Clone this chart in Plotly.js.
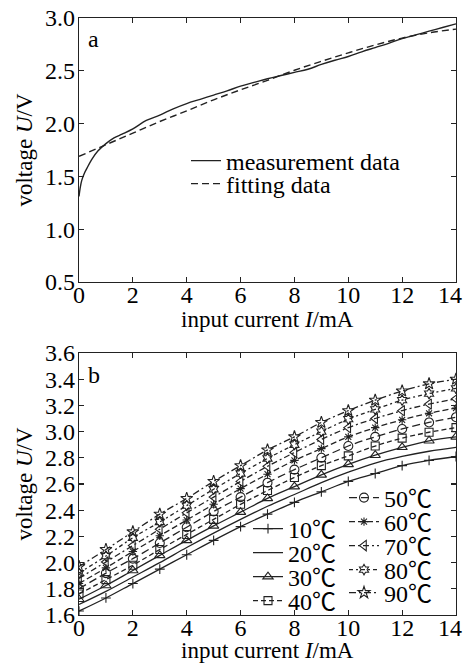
<!DOCTYPE html>
<html>
<head>
<meta charset="utf-8">
<script src="https://cdn.plot.ly/plotly-3.0.1.min.js"></script>
<style>html,body{margin:0;padding:0;background:#fff}#chart{width:463px;height:664px}</style>
</head>
<body>
<div id="chart"></div>
<script>
// ---------- data: panel a ----------
const measX = [0,0.05,0.1,0.2,0.3,0.5,0.7,1,1.3,1.6,2,2.5,3,3.5,4,4.5,5,5.5,6,6.5,7,7.5,8,8.5,9,9.5,10,10.5,11,11.5,12,12.5,13,13.5,14];
const measY = [1.31,1.40,1.46,1.53,1.58,1.67,1.74,1.81,1.865,1.90,1.95,2.03,2.08,2.14,2.19,2.23,2.27,2.31,2.355,2.39,2.425,2.455,2.485,2.515,2.56,2.60,2.635,2.68,2.72,2.76,2.805,2.84,2.875,2.91,2.945];
const fitX = [0,1,2,3,4,5,6,7,8,9,10,11,12,13,14];
const fitY = [1.69,1.80,1.91,2.02,2.12,2.225,2.32,2.41,2.505,2.59,2.67,2.745,2.81,2.86,2.895];
const legendA = ["measurement data","fitting data"];

// ---------- data: panel b ----------
const currentB = [0,1,2,3,4,5,6,7,8,9,10,11,12,13,14];
const temps = ["10℃","20℃","30℃","40℃","50℃","60℃","70℃","80℃","90℃"];
const v10 = [1.63,1.73,1.84,1.95,2.06,2.17,2.275,2.37,2.46,2.54,2.62,2.68,2.74,2.78,2.81];
const v20 = [1.68,1.78,1.89,2.00,2.115,2.225,2.33,2.43,2.52,2.61,2.69,2.76,2.81,2.85,2.88];
const v30 = [1.72,1.825,1.94,2.055,2.17,2.28,2.385,2.49,2.58,2.67,2.75,2.82,2.88,2.93,2.96];
const v40 = [1.76,1.87,1.98,2.10,2.215,2.33,2.445,2.55,2.65,2.74,2.815,2.89,2.95,2.995,3.03];
const v50 = [1.80,1.92,2.03,2.15,2.27,2.39,2.50,2.61,2.71,2.80,2.89,2.96,3.02,3.07,3.11];
const v60 = [1.84,1.96,2.085,2.205,2.325,2.445,2.565,2.675,2.78,2.87,2.96,3.03,3.09,3.14,3.18];
const v70 = [1.88,2.005,2.13,2.255,2.38,2.50,2.62,2.735,2.84,2.94,3.03,3.10,3.16,3.21,3.25];
const v80 = [1.92,2.05,2.19,2.31,2.435,2.56,2.68,2.795,2.90,3.00,3.095,3.17,3.24,3.29,3.33];
const v90 = [1.97,2.10,2.235,2.37,2.49,2.62,2.74,2.86,2.96,3.07,3.16,3.24,3.31,3.365,3.40];
const seriesB = [v10,v20,v30,v40,v50,v60,v70,v80,v90];
const xTickVals = [0,2,4,6,8,10,12,14];
const xTickText = ['0','2','4','6','8','10','12','14\u00a0\u00a0'];
const xTitle = 'input current <i>I</i>/mA';
const yTitle = 'voltage <i>U</i>/V';

// ---------- styling ----------
const W = 463, H = 664;
const M = {l:79, r:7, t:18, b:49};
const PW = W - M.l - M.r, PH = H - M.t - M.b;
const px2x = p => (p - M.l) / PW;
const px2y = p => 1 - (p - M.t) / PH;
const INK = '#222';
const FONT = 'Liberation Serif, Noto Sans CJK SC, serif';

const markerSym = [
  'cross-thin-open', null, 'triangle-up-open', 'square-open', 'circle-open',
  'asterisk-open', 'triangle-left-open', 'hexagram-open', 'star-open'
];
const markerSize = [7,0,9,8,9,7,9,8,9];
const dashes = ['solid','solid','solid','5px,3px','8px,4px','6px,3px','6px,3px,2px,3px','4px,3px,2px,3px','7px,3px,2px,3px'];

// legend positions: [line start x px, center y px]
const legPos = [
  [192,161],[192,184],
  [254,529],[254,553],[254,577],[254,601],
  [350,498],[350,522],[350,546],[350,570],[350,593]
];

const traces = [];
traces.push({x:measX, y:measY, xaxis:'x', yaxis:'y', type:'scatter', mode:'lines',
  name:legendA[0], line:{color:INK, width:1.4, shape:'spline'}, legend:'legend'});
traces.push({x:fitX, y:fitY, xaxis:'x', yaxis:'y', type:'scatter', mode:'lines',
  name:legendA[1], line:{color:INK, width:1.4, dash:'7px,4px', shape:'spline'}, legend:'legend2'});

seriesB.forEach((vals,i) => {
  const t = {x:currentB, y:vals, xaxis:'x2', yaxis:'y2', type:'scatter',
    name:temps[i], line:{color:INK, width:1.3, dash:dashes[i], shape:'spline'},
    legend:'legend' + (i+3)};
  if (markerSym[i]) {
    t.mode = 'lines+markers';
    t.marker = {symbol:markerSym[i], size:markerSize[i], color:INK, line:{color:INK, width:1.1}};
  } else {
    t.mode = 'lines';
  }
  traces.push(t);
});

const axisCommon = {
  showline:true, linecolor:INK, linewidth:1.2, mirror:'ticks',
  ticks:'inside', ticklen:5, tickcolor:INK, tickwidth:1.2,
  showgrid:false, zeroline:false, ticklabeloverflow:'allow',
  tickfont:{family:FONT, size:24, color:'#000'}
};
const xCommon = {domain:[0,1], range:[0,14], tickmode:'array', tickvals:xTickVals, ticktext:xTickText, ticklabelstandoff:-9};

const layout = {
  width:W, height:H, margin:M,
  paper_bgcolor:'#fff', plot_bgcolor:'#fff',
  font:{family:FONT, size:23, color:'#000'},
  xaxis: Object.assign({}, axisCommon, xCommon, {anchor:'y'}),
  yaxis: Object.assign({}, axisCommon, {domain:[px2y(282), 1], anchor:'x', range:[0.5,3.0], dtick:0.5, tick0:0.5, tickformat:'.1f', ticklabelstandoff:-2,
    title:{text:yTitle, font:{family:FONT,size:23}, standoff:6}}),
  xaxis2: Object.assign({}, axisCommon, xCommon, {anchor:'y2'}),
  yaxis2: Object.assign({}, axisCommon, {domain:[0, px2y(353)], anchor:'x2', range:[1.6,3.6], dtick:0.2, tick0:1.6, tickformat:'.1f', ticklabelstandoff:-2,
    title:{text:yTitle, font:{family:FONT,size:23}, standoff:6}}),
  annotations:[
    {text:'a', xref:'paper', yref:'paper', x:px2x(86), y:px2y(39), xanchor:'left', yanchor:'middle', showarrow:false, font:{family:FONT,size:24,color:'#000'}},
    {text:'b', xref:'paper', yref:'paper', x:px2x(86), y:px2y(375), xanchor:'left', yanchor:'middle', showarrow:false, font:{family:FONT,size:24,color:'#000'}},
    {text:xTitle, xref:'paper', yref:'paper', x:0.5, y:px2y(319), xanchor:'center', yanchor:'middle', showarrow:false, font:{family:FONT,size:23,color:'#000'}},
    {text:xTitle, xref:'paper', yref:'paper', x:0.5, y:px2y(650), xanchor:'center', yanchor:'middle', showarrow:false, font:{family:FONT,size:23,color:'#000'}}
  ],
  showlegend:true
};

legPos.forEach((p,i) => {
  const key = i === 0 ? 'legend' : 'legend' + (i+1);
  layout[key] = {
    x:px2x(p[0] - 6), y:px2y(p[1]), xanchor:'left', yanchor:'middle',
    bgcolor:'rgba(0,0,0,0)', borderwidth:0,
    font:{family:FONT, size:24, color:'#000'},
    itemwidth:30, tracegroupgap:0
  };
});

Plotly.newPlot('chart', traces, layout, {staticPlot:true, displayModeBar:false});
</script>
</body>
</html>
